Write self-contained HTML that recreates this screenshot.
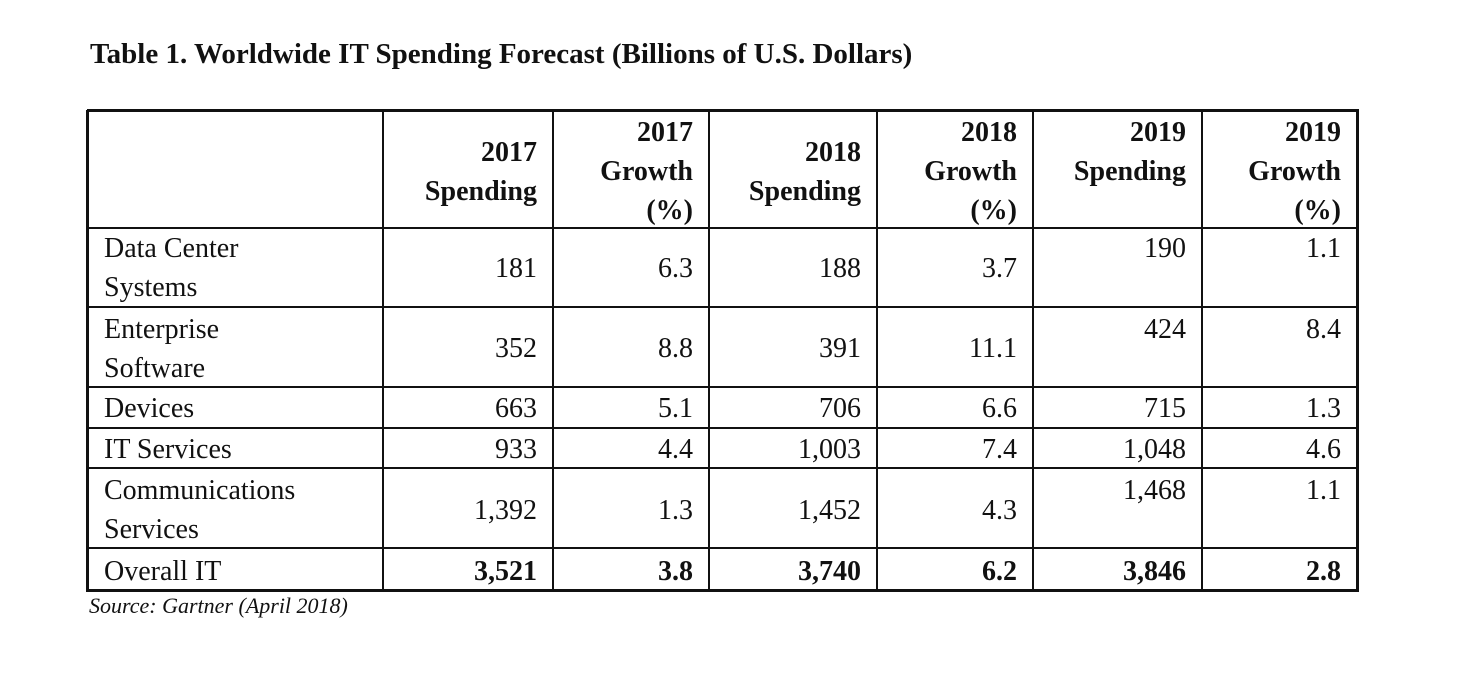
<!DOCTYPE html>
<html><head><meta charset="utf-8"><style>
body{margin:0;width:1471px;height:688px;background:#fff;position:relative;overflow:hidden;font-family:"Liberation Serif",serif;color:#111}
.l{position:absolute;background:#111}
.t{position:absolute;font-size:28px;line-height:39px;white-space:nowrap}
.r{text-align:right}
.b{font-weight:bold}
</style></head><body>
<div class="t b" style="left:90px;top:35px;font-size:29px">Table 1. Worldwide IT Spending Forecast (Billions of U.S. Dollars)</div>
<div id="tbl"></div>
<div class="t" style="left:89px;top:592px;font-size:22px;font-style:italic;line-height:28px">Source: Gartner (April 2018)</div>
<script>
const cols=[87,383,553,709,877,1033,1202,1357];
const rowsY=[110,228,307,387,428,468,548,590];
const headers=[["2017","Spending"],["2017","Growth","(%)"],["2018","Spending"],["2018","Growth","(%)"],["2019","Spending"],["2019","Growth","(%)"]];
const headerTop=[152,132,152,132,132,132];
const labels=[["Data Center","Systems"],["Enterprise","Software"],["Devices"],["IT Services"],["Communications","Services"],["Overall IT"]];
const labelTop=[248,329,408,449,490,571];
const valTop=[268,348,408,449,510,571];
const val19Top=[248,329,408,449,490,571];
const values=[["181","6.3","188","3.7","190","1.1"],["352","8.8","391","11.1","424","8.4"],["663","5.1","706","6.6","715","1.3"],["933","4.4","1,003","7.4","1,048","4.6"],["1,392","1.3","1,452","4.3","1,468","1.1"],["3,521","3.8","3,740","6.2","3,846","2.8"]];
const tb=document.body;
function line(x,y,w,h,n){const d=document.createElement('div');d.className='l';


d.style.cssText=`left:${x}px;top:${y}px;width:${w}px;height:${h}px`;tb.appendChild(d);}
function txt(s,ci,cy,cls,n){const d=document.createElement('div');d.className='t '+cls;


const l=cols[ci],r=cols[ci+1];
if(cls.includes('r')){d.style.left=l+'px';d.style.width=(r-l-16)+'px';}else{d.style.left=(l+17)+'px';}
d.style.top=(cy-19.5)+'px';d.textContent=s;tb.appendChild(d);}
cols.forEach((x,i)=>{const w=(i==0||i==cols.length-1)?3:2;line(x-1,rowsY[0],w,rowsY[rowsY.length-1]-rowsY[0]+2,'column-border');});
rowsY.forEach((y,i)=>{const h=(i==0||i==rowsY.length-1)?3:2;line(cols[0],y-1,cols[cols.length-1]-cols[0]+2,h,'row-border');});
headers.forEach((h,c)=>h.forEach((s,k)=>txt(s,c+1,headerTop[c]+k*39,'r b','column-header')));
labels.forEach((lb,r)=>lb.forEach((s,k)=>txt(s,0,labelTop[r]+k*39,'','row-label')));
values.forEach((row,r)=>row.forEach((v,c)=>txt(v,c+1,c>=4?val19Top[r]:valTop[r],'r'+(r==5?' b':''),'cell-value')));
</script>
</body></html>
